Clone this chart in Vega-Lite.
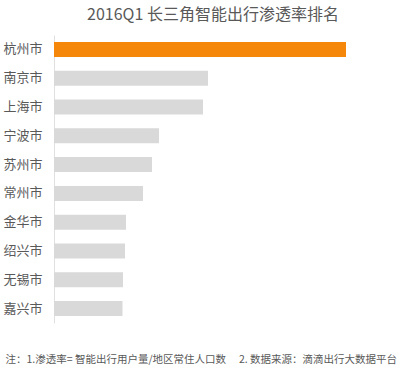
{
  "$schema": "https://vega.github.io/schema/vega-lite/v6.json",
  "autosize": "none",
  "padding": {"left": 54, "top": 35, "right": 6, "bottom": 48},
  "width": 340,
  "height": 288,
  "background": "white",
  "title": {
    "text": "2016Q1 长三角智能出行渗透率排名",
    "font": "Noto Sans CJK SC",
    "fontSize": 16,
    "fontWeight": "normal",
    "color": "#595959",
    "anchor": "middle",
    "dx": -11,
    "offset": 12
  },
  "data": {
    "values": [
      {"city": "杭州市", "rate": 2.92, "top": "yes"},
      {"city": "南京市", "rate": 1.54, "top": "no"},
      {"city": "上海市", "rate": 1.49, "top": "no"},
      {"city": "宁波市", "rate": 1.05, "top": "no"},
      {"city": "苏州市", "rate": 0.98, "top": "no"},
      {"city": "常州市", "rate": 0.89, "top": "no"},
      {"city": "金华市", "rate": 0.72, "top": "no"},
      {"city": "绍兴市", "rate": 0.71, "top": "no"},
      {"city": "无锡市", "rate": 0.69, "top": "no"},
      {"city": "嘉兴市", "rate": 0.685, "top": "no"}
    ]
  },
  "mark": {"type": "bar"},
  "encoding": {
    "y": {
      "field": "city",
      "type": "nominal",
      "sort": null,
      "scale": {"paddingInner": 0.48, "paddingOuter": 0.24},
      "axis": {
        "title": null,
        "ticks": false,
        "domainColor": "#e0e0e0",
        "domainWidth": 1,
        "labelFont": "Noto Sans CJK SC",
        "labelFontSize": 13,
        "labelColor": "#595959",
        "labelPadding": 12
      }
    },
    "x": {
      "field": "rate",
      "type": "quantitative",
      "scale": {"domain": [0, 3.4], "nice": false},
      "axis": {
        "labels": false,
        "ticks": false,
        "domain": false,
        "grid": false,
        "title": "注：1.渗透率= 智能出行用户量/地区常住人口数　 2. 数据来源：滴滴出行大数据平台",
        "titleFont": "Noto Sans CJK SC",
        "titleFontSize": 10.5,
        "titleFontWeight": "normal",
        "titleColor": "#595959",
        "titleAnchor": "start",
        "titleAlign": "left",
        "titleBaseline": "alphabetic",
        "titleX": -49,
        "titleY": 39
      }
    },
    "color": {
      "field": "top",
      "type": "nominal",
      "scale": {"domain": ["yes", "no"], "range": ["#f5870a", "#d9d9d9"]},
      "legend": null
    }
  },
  "config": {"view": {"stroke": null}}
}
